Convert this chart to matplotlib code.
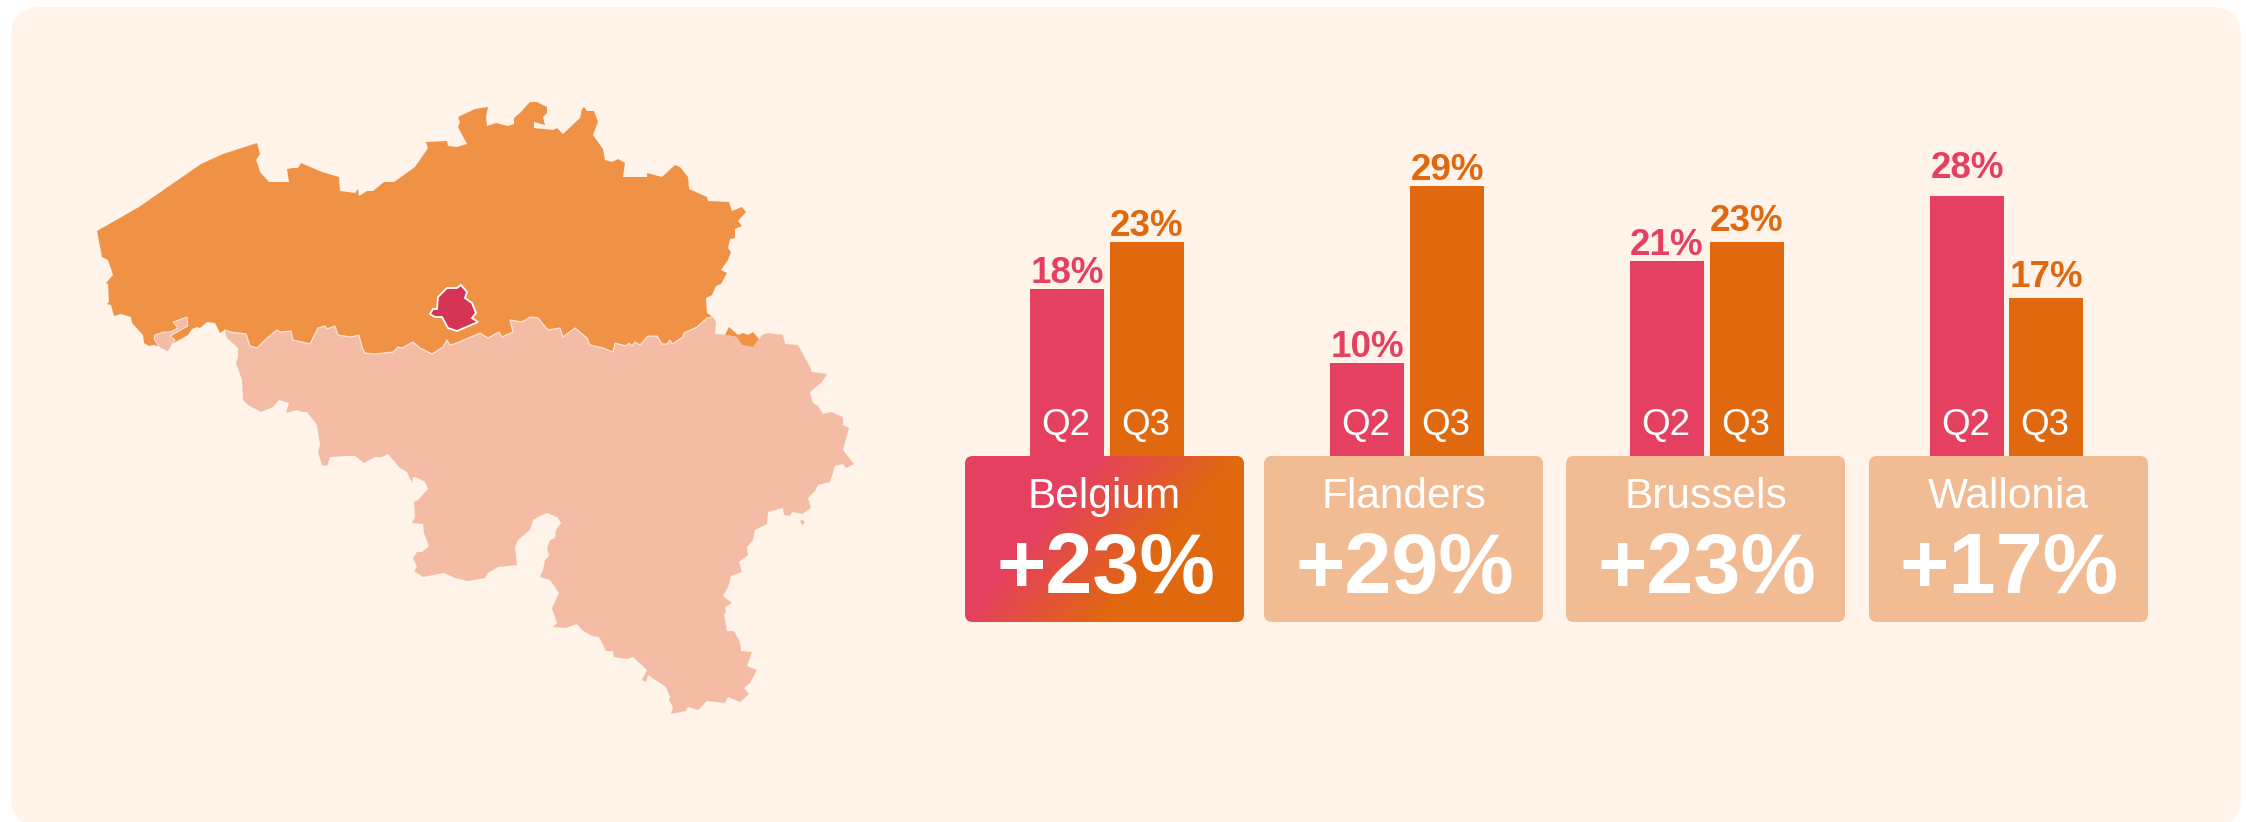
import matplotlib
matplotlib.use('Agg')
import matplotlib.pyplot as plt
import numpy as np
from matplotlib.colors import LinearSegmentedColormap
from matplotlib.patches import FancyBboxPatch, Polygon

plt.rcParams['font.family'] = ['Liberation Sans', 'DejaVu Sans']

# 1. Data
regions = ['Belgium', 'Flanders', 'Brussels', 'Wallonia']
quarters = ['Q2', 'Q3']
q2_values = [18, 10, 21, 28]
q3_values = [23, 29, 23, 17]
headline = ['+23%', '+29%', '+23%', '+17%']

# map outlines in pixels
flanders_north = [
    (97, 231), (139, 207), (201, 164), (223, 154), (257, 143), (260, 154), (256, 160), (258, 165),
    (260, 172), (269, 182), (289, 182), (287, 169), (293, 168), (298, 168), (301, 163), (322, 172),
    (339, 177), (340, 191), (355, 193), (358, 189), (359, 196), (367, 191), (373, 191), (384, 182),
    (394, 182), (415, 167), (428, 148), (426, 142), (447, 141), (448, 146), (457, 147), (467, 144),
    (458, 127), (460, 122), (458, 117), (475, 109), (488, 107), (486, 117), (487, 126), (496, 123),
    (508, 126), (514, 124), (514, 118), (520, 113), (530, 102), (537, 102), (547, 107), (547, 113),
    (543, 117), (545, 125), (534, 122), (534, 128), (553, 130), (557, 128), (563, 134), (580, 118),
    (582, 109), (584, 107), (587, 111), (594, 111), (598, 122), (593, 135), (603, 149), (605, 160),
    (612, 162), (618, 159), (625, 163), (623, 177), (647, 177), (647, 173), (662, 177), (675, 165),
    (680, 167), (688, 177), (689, 189), (707, 197), (708, 201), (729, 202), (732, 211), (742, 207),
    (746, 212), (738, 221), (742, 226), (735, 229), (735, 238), (730, 239), (728, 248), (731, 252),
    (728, 260), (721, 270), (727, 273), (721, 284), (716, 286), (712, 295), (706, 298), (707, 313),
]
language_border = [
    (713, 317), (707, 318), (697, 327), (684, 333), (683, 337), (672, 344), (670, 340), (667, 344),
    (662, 344), (657, 336), (648, 336), (640, 345), (635, 342), (632, 346), (629, 343), (626, 346),
    (615, 343), (613, 352), (603, 348), (590, 345), (587, 338), (575, 328), (563, 337), (560, 328),
    (548, 330), (538, 318), (530, 317), (522, 322), (510, 320), (513, 332), (502, 337), (499, 332),
    (488, 338), (480, 333), (457, 343), (450, 345), (447, 340), (443, 347), (432, 354), (420, 348),
    (413, 342), (402, 348), (398, 347), (393, 352), (375, 354), (365, 353), (362, 347), (359, 335),
    (351, 337), (338, 335), (335, 326), (327, 329), (325, 326), (318, 328), (310, 344), (293, 340),
    (291, 331), (280, 332), (277, 330), (267, 338), (257, 348), (250, 346), (246, 334), (230, 332),
    (225, 330),
]
flanders_west = [
    (220, 333), (215, 323), (207, 322), (200, 328), (197, 327), (192, 329), (188, 335), (170, 345),
    (160, 347), (154, 345), (149, 346), (144, 343), (143, 335), (132, 323), (131, 317), (121, 314),
    (114, 316), (111, 305), (107, 304), (109, 302), (108, 284), (106, 283), (113, 275), (108, 260),
    (102, 257),
]
wallonia_outer = [
    (225, 332), (227, 338), (238, 348), (238, 357), (236, 363), (242, 380), (243, 400), (248, 405),
    (261, 412), (273, 407), (279, 400), (289, 403), (286, 413), (297, 410), (302, 412), (307, 412),
    (317, 425), (320, 445), (318, 452), (322, 465), (327, 466), (330, 457), (346, 456), (355, 456),
    (364, 463), (375, 457), (382, 457), (388, 454), (400, 468), (407, 472), (412, 483), (413, 477),
    (418, 478), (425, 482), (428, 489), (418, 500), (414, 502), (415, 517), (412, 523), (423, 524),
    (424, 533), (429, 546), (422, 552), (417, 552), (413, 558), (417, 567), (414, 571), (423, 577),
    (444, 573), (455, 578), (468, 581), (485, 578), (488, 573), (498, 567), (517, 565), (515, 547),
    (518, 540), (530, 530), (533, 520), (540, 516), (547, 513), (557, 517), (561, 523), (556, 530),
    (555, 538), (550, 540), (547, 548), (549, 556), (545, 560), (543, 570), (540, 577), (550, 580),
    (559, 593), (552, 608), (557, 623), (553, 627), (566, 628), (577, 624), (582, 630), (592, 636),
    (599, 637), (606, 651), (613, 651), (614, 657), (627, 659), (633, 657), (647, 670), (642, 680),
    (646, 682), (648, 675), (666, 687), (670, 697), (669, 700), (673, 707), (671, 714), (686, 711),
    (688, 707), (698, 710), (707, 701), (725, 703), (728, 697), (740, 702), (749, 694), (744, 688),
    (750, 683), (757, 670), (747, 666), (752, 652), (741, 651), (740, 642), (734, 631), (727, 631),
    (724, 615), (726, 612), (725, 607), (732, 603), (723, 596), (728, 587), (731, 576), (742, 572),
    (739, 562), (748, 555), (747, 547), (753, 540), (755, 530), (767, 524), (768, 512), (783, 508),
    (784, 515), (790, 516), (792, 512), (802, 514), (811, 508), (808, 498), (815, 491), (818, 485),
    (830, 482), (835, 466), (843, 464), (846, 468), (854, 464), (843, 450), (849, 428), (843, 425),
    (843, 417), (831, 412), (823, 414), (818, 406), (813, 403), (810, 392), (822, 382), (827, 374),
    (812, 372), (809, 365), (798, 345), (785, 344), (783, 335), (768, 333), (762, 335), (753, 347),
    (742, 345), (737, 337), (727, 335), (715, 334), (716, 322),
]
comines = [
    (173, 322), (187, 317), (188, 326), (170, 336), (175, 340), (168, 352), (160, 348), (154, 339),
    (155, 335), (163, 332), (170, 332), (178, 328),
]
voeren = [
    (715, 335), (725, 335), (729, 327), (738, 335), (743, 333), (748, 335), (753, 332), (759, 339),
    (753, 347), (742, 345), (737, 337), (727, 335),
]
brussels = [
    (430, 314), (433, 309), (437, 309), (438, 297), (447, 288), (457, 288), (461, 285), (467, 292),
    (465, 298), (472, 303), (476, 313), (472, 318), (478, 322), (457, 331), (448, 328), (442, 317),
    (435, 317),
]
wallonia_dot = [(800, 521), (803, 520), (805, 523), (802, 525)]

# 2. Colours and layout, all in pixels of the 2246x822 picture
W, H = 2246, 822
bg = '#FFF3EA'
pink = '#E5405F'
orange = '#E0680F'
box_color = '#F1BB93'
flanders_color = '#F09246'
wallonia_color = '#F4BCA5'
brussels_color = '#D53555'

box_left = [965, 1264, 1566, 1869]
bar_left = [1030, 1330, 1630, 1930]
bar_pitch = [80, 80, 80, 79]
box_w = 279
box_top = 456
box_bottom = 622
px_per_pct = 9.3
axes_top = 150

# gap between bar top and its value label, in pixels
q2_gap = [6, 6, 6, 18]
q3_gap = [6, 6, 11, 11]

fig = plt.figure(figsize=(W / 100, H / 100), dpi=100, facecolor='white')
ax = fig.add_axes([0, 0, 1, 1])
ax.set_xlim(0, W)
ax.set_ylim(H, 0)
ax.axis('off')

# background panel
ax.add_patch(FancyBboxPatch((11, 7), 2230, 820, boxstyle='round,pad=0,rounding_size=30',
                            facecolor=bg, edgecolor='none', zorder=0))

# 3. Map
flanders_outline = flanders_north + language_border + flanders_west
wallonia_outline = wallonia_outer + language_border
ax.add_patch(Polygon(wallonia_outline, closed=True, facecolor=wallonia_color, edgecolor='none', zorder=1))
ax.add_patch(Polygon(wallonia_dot, closed=True, facecolor=wallonia_color, edgecolor='none', zorder=1))
ax.add_patch(Polygon(flanders_outline, closed=True, facecolor=flanders_color, edgecolor='none', zorder=2))
ax.add_patch(Polygon(comines, closed=True, facecolor=wallonia_color, edgecolor='white', linewidth=0.5, zorder=3))
ax.add_patch(Polygon(voeren, closed=True, facecolor=flanders_color, edgecolor='none', zorder=3))
border_x, border_y = zip(*language_border)
ax.plot(border_x, border_y, color='white', alpha=0.65, linewidth=0.9, zorder=3)
ax.add_patch(Polygon(brussels, closed=True, facecolor=brussels_color, edgecolor='white', linewidth=1.3, zorder=4))

# 4. Boxes under the bars
cmap = LinearSegmentedColormap.from_list('pink_orange', [pink, orange])
for i, region in enumerate(regions):
    left = box_left[i]
    box = FancyBboxPatch((left, box_top), box_w, box_bottom - box_top,
                         boxstyle='round,pad=0,rounding_size=8',
                         facecolor=box_color, edgecolor='none', zorder=2)
    ax.add_patch(box)
    if region == 'Belgium':
        # diagonal gradient for the national box
        xx, yy = np.meshgrid(np.arange(box_w), np.arange(box_bottom - box_top))
        grad = np.clip((xx + 0.8 * yy - 130) / 140, 0, 1)
        img = ax.imshow(grad, cmap=cmap, vmin=0, vmax=1, aspect='auto', interpolation='bilinear',
                        extent=(left, left + box_w, box_bottom, box_top), zorder=3)
        img.set_clip_path(box)
        ax.set_xlim(0, W)
        ax.set_ylim(H, 0)
    cx = left + box_w / 2
    ax.text(cx, 508, region, color='white', fontsize=30.5, ha='center', va='baseline', zorder=5)
    ax.text(cx + 1, 593, headline[i], color='white', fontsize=61, fontweight='bold',
            ha='center', va='baseline', zorder=5)

# 5. Bars, one small axes per region
for i, region in enumerate(regions):
    ymax = (box_top - axes_top) / px_per_pct
    bar_ax = fig.add_axes([bar_left[i] / W, 1 - box_top / H, 160 / W, (box_top - axes_top) / H])
    bar_ax.set_xlim(0, 160)
    bar_ax.set_ylim(0, ymax)
    bar_ax.axis('off')
    values = [q2_values[i], q3_values[i]]
    gaps = [q2_gap[i], q3_gap[i]]
    colors = [pink, orange]
    for j, v in enumerate(values):
        x = 37 + bar_pitch[i] * j
        bar_ax.bar(x, v, width=74, color=colors[j], linewidth=0)
        bar_ax.annotate(f'{v}%', (x, v), xytext=(0, gaps[j] * 0.72), textcoords='offset points',
                        color=colors[j], fontsize=26.5, fontweight='bold', ha='center', va='baseline')
        bar_ax.annotate(quarters[j], (x - 1, 0), xytext=(0, 15), textcoords='offset points',
                        color='white', fontsize=26.5, ha='center', va='baseline')

plt.savefig('out.png', dpi=100, facecolor='white')
